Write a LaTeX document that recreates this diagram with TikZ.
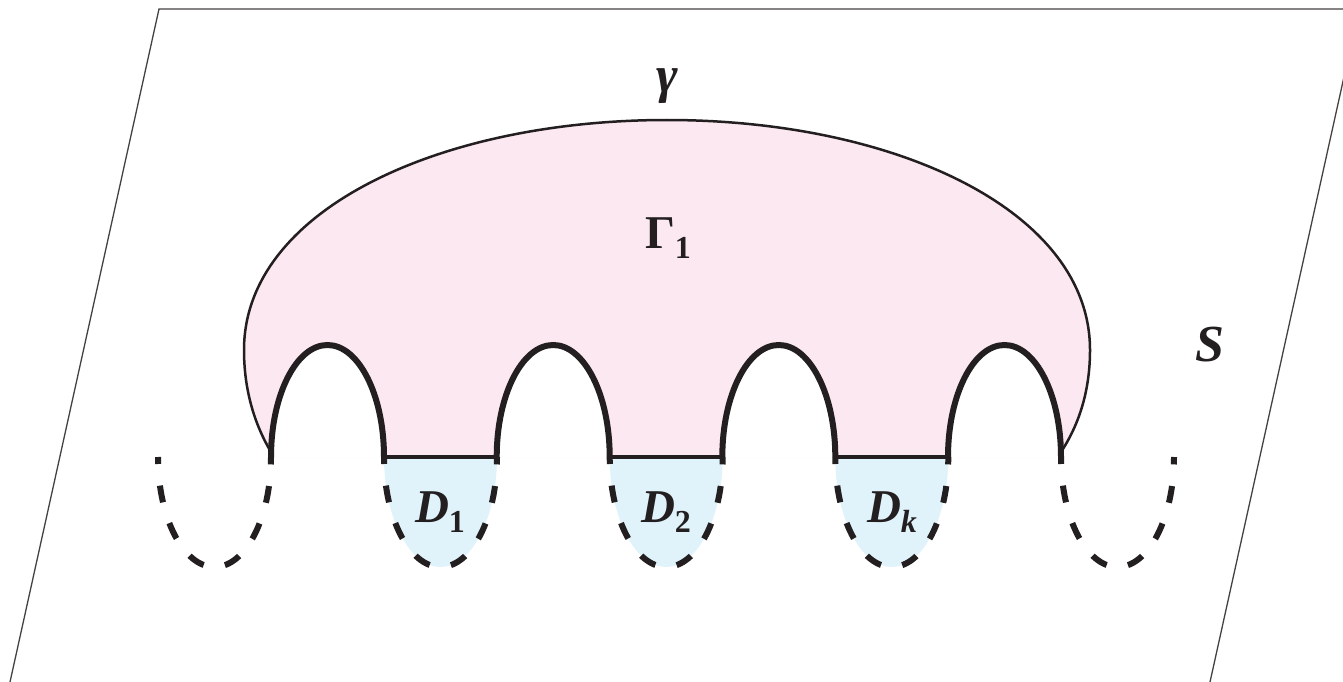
\documentclass[tikz,border=0pt]{standalone}
\usepackage{fontspec}
\newfontfamily\labfont{Liberation Serif}
\definecolor{pinkfill}{HTML}{FCE8F1}
\definecolor{bluefill}{HTML}{E0F3FA}
\definecolor{ink}{HTML}{231F20}
\newcommand{\labsub}[1]{\raisebox{-0.22em}{\fontsize{32}{32}\selectfont #1}}
\begin{document}
\begin{tikzpicture}[x=1pt,y=-1pt,
  planeline/.style={draw=ink!85, line width=1.3pt},
  outline/.style={draw=ink, line width=2.5pt},
  archline/.style={draw=ink, line width=6pt},
  baseseg/.style={draw=ink, line width=4pt},
  dashU/.style={draw=ink, line width=6pt, dash pattern=on 17pt off 21.7pt, dash phase=10pt},
  lbl/.style={text=ink, inner sep=0pt, anchor=base},
  bigfont/.style={font=\labfont\bfseries\itshape\fontsize{47}{52}\selectfont}]
\useasboundingbox (0,0) rectangle (1343,682);
% plane S
\begin{scope}
  \clip (0,0) rectangle (1343,682);
  \draw[planeline] (10,682) -- (159,9) -- (1359,9) -- (1210,682);
\end{scope}
% blue discs D_i
\foreach \l in {384,609.7,835.3}{
  \fill[bluefill] (\l,457) arc[start angle=180,end angle=0,x radius=56.5,y radius=110] -- cycle;
}
% pink region Gamma_1
\fill[pinkfill] (271,457) -- (271,455) .. controls (252,420) and (244,385) .. (244,350)
  .. controls (244,210) and (440,120) .. (667,120)
  .. controls (894,120) and (1090,210) .. (1090,350)
  .. controls (1090,385) and (1082,420) .. (1061,455) -- (1061,457) -- cycle;
\foreach \l in {271,496.7,722.3,948}{
  \fill[white] (\l,457) arc[start angle=180,end angle=360,x radius=56.5,y radius=112] -- cycle;
}
% outer curve gamma
\draw[outline] (271,452) .. controls (252,420) and (244,385) .. (244,350)
  .. controls (244,210) and (440,120) .. (667,120)
  .. controls (894,120) and (1090,210) .. (1090,350)
  .. controls (1090,385) and (1082,420) .. (1061,452);
% arches
\foreach \l in {271,496.7,722.3,948}{
  \draw[archline] (\l,457) arc[start angle=180,end angle=360,x radius=56.5,y radius=112];
}
% base segments
\foreach \l/\r in {384/496.7,609.7/722.3,835.3/948}{
  \draw[baseseg] (\l-1,457) -- (\r+1,457);
}
% dashed lower halves
\foreach \l in {158,384,609.7,835.3,1061}{
  \draw[dashU] (\l,457) arc[start angle=180,end angle=0,x radius=56.5,y radius=110];
}
% labels
\node[lbl, font=\labfont\bfseries\itshape\fontsize{52}{56}\selectfont] (gamma) at (667,93) {γ};
\node[lbl, font=\labfont\bfseries\fontsize{47}{52}\selectfont] (Gamma1) at (668,248) {Γ\labsub{1}};
\node[lbl, font=\labfont\bfseries\itshape\fontsize{52}{56}\selectfont] (S) at (1210,361) {S};
\node[lbl, bigfont] (D1) at (440,522) {D\labsub{\upshape 1}};
\node[lbl, bigfont] (D2) at (666,522) {D\labsub{\upshape 2}};
\node[lbl, bigfont] (Dk) at (892,522) {D\labsub{k}};
\end{tikzpicture}
\end{document}
